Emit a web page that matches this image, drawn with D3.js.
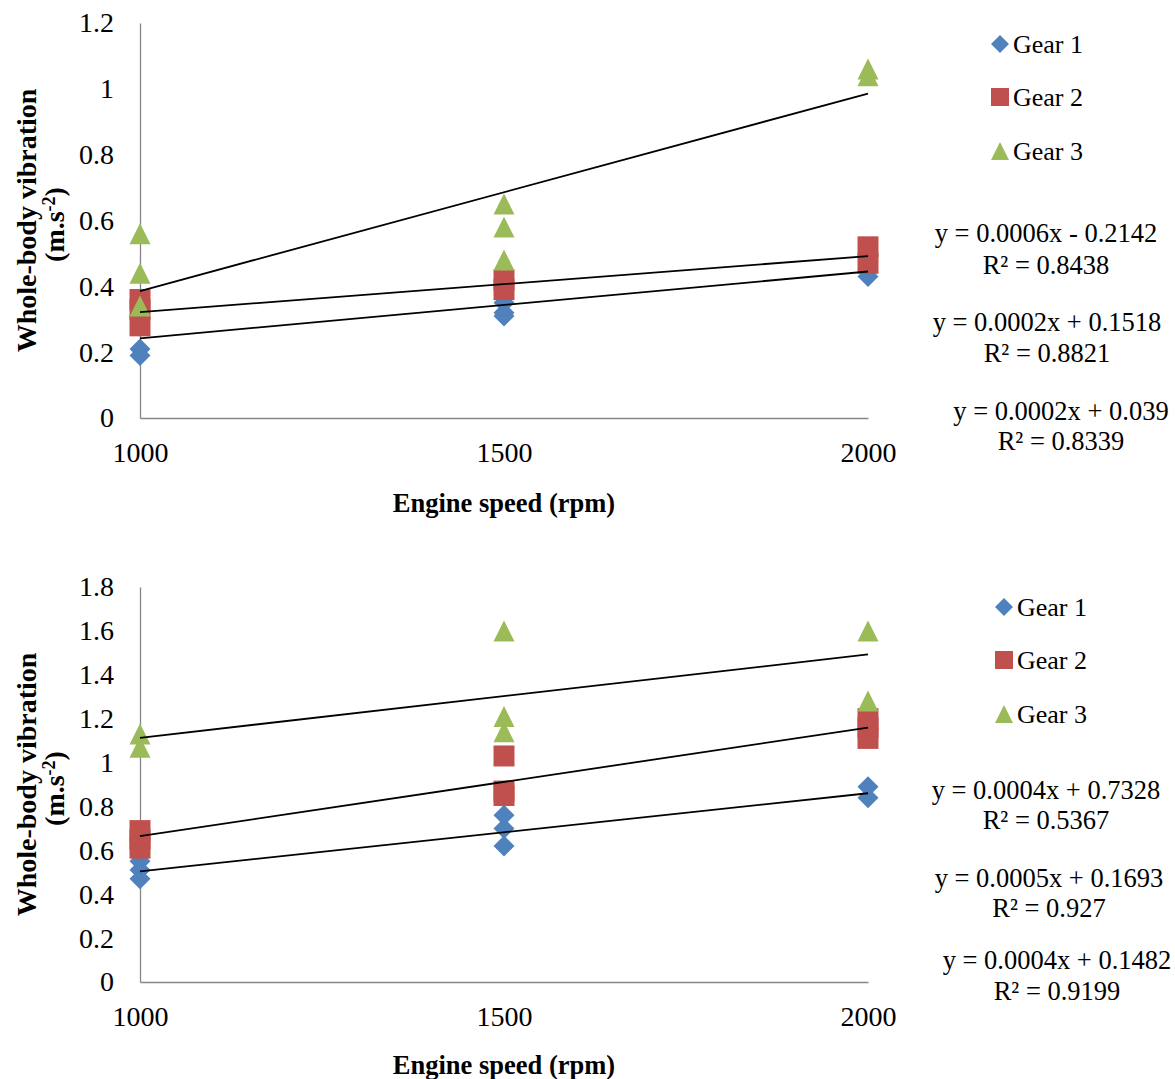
<!DOCTYPE html>
<html>
<head>
<meta charset="utf-8">
<script src="https://cdn.jsdelivr.net/npm/d3@7"></script>
<style>
  html, body { margin: 0; padding: 0; background: #fff; }
  svg { display: block; }
  text { font-family: "Liberation Serif", "Times New Roman", serif; fill: #000; }
</style>
</head>
<body>
<svg id="chart" width="1175" height="1079"></svg>
<script>
// ---------------- DATA ----------------
const xCategories = [1000, 1500, 2000];
const seriesNames = ["Gear 1", "Gear 2", "Gear 3"];
const seriesColors = ["#4F81BD", "#C0504D", "#9BBB59"];
const xAxisTitle = "Engine speed (rpm)";
const yAxisTitle = ["Whole-body vibration", "(m.s", "-2", ")"];

// Top chart — values per engine speed (1000, 1500, 2000)
const topYTicks = [0, 0.2, 0.4, 0.6, 0.8, 1.0, 1.2];
const topGear1 = [[0.21, 0.19], [0.35, 0.32, 0.31], [0.43]];
const topGear2 = [[0.36, 0.33, 0.28], [0.42, 0.39], [0.52, 0.47]];
const topGear3 = [[0.56, 0.44, 0.34], [0.65, 0.58, 0.48], [1.06, 1.04]];
const topSlopes = [0.000203, 0.00017, 0.0006];
const topIntercepts = [0.039, 0.1518, -0.2142];
const topEquations = ["y = 0.0002x + 0.039", "y = 0.0002x + 0.1518", "y = 0.0006x - 0.2142"];
const topRSquared = ["R² = 0.8339", "R² = 0.8821", "R² = 0.8438"];

// Bottom chart
const bottomYTicks = [0, 0.2, 0.4, 0.6, 0.8, 1.0, 1.2, 1.4, 1.6, 1.8];
const bottomGear1 = [[0.55, 0.51, 0.47], [0.76, 0.70, 0.62], [0.89, 0.84]];
const bottomGear2 = [[0.69, 0.65, 0.61], [1.03, 0.87, 0.85], [1.2, 1.16, 1.11]];
const bottomGear3 = [[1.13, 1.07], [1.6, 1.21, 1.14], [1.6, 1.28]];
const bottomSlopes = [0.000356, 0.000495, 0.00038];
const bottomIntercepts = [0.1482, 0.1693, 0.7328];
const bottomEquations = ["y = 0.0004x + 0.1482", "y = 0.0005x + 0.1693", "y = 0.0004x + 0.7328"];
const bottomRSquared = ["R² = 0.9199", "R² = 0.927", "R² = 0.5367"];

// ---------------- LAYOUT ----------------
const svg = d3.select("#chart");
const SERIF = '"Liberation Serif", "Times New Roman", serif';

function markerPath(kind, cx, cy, s) {
  const h = s / 2;
  if (kind === 0) return `M${cx},${cy - h}L${cx + h},${cy}L${cx},${cy + h}L${cx - h},${cy}Z`;
  if (kind === 1) return `M${cx - h},${cy - h}H${cx + h}V${cy + h}H${cx - h}Z`;
  return `M${cx},${cy - h}L${cx + h},${cy + h}L${cx - h},${cy + h}Z`;
}

function drawChart(opts) {
  const g = svg.append("g");
  const x = d3.scaleLinear().domain([1000, 2000]).range([opts.left, opts.right]);
  const y = d3.scaleLinear().domain([0, d3.max(opts.yTicks)]).range([opts.bottom, opts.top]);

  // axes (lines only, no tick marks)
  const yAxis = d3.axisLeft(y).tickValues(opts.yTicks).tickSize(0).tickPadding(26)
    .tickFormat(d => d3.format("")(+d.toFixed(1)));
  const yg = g.append("g").attr("transform", `translate(${opts.left},0)`).call(yAxis)
    .attr("font-family", SERIF).attr("font-size", 28);
  yg.select(".domain").attr("stroke", "#868686").attr("stroke-width", 1.3);
  yg.selectAll("text").style("font-family", SERIF).style("font-size", "28px").attr("fill", "#000");

  const xAxis = d3.axisBottom(x).tickValues(xCategories).tickSize(0).tickPadding(24).tickFormat(d3.format("d"));
  const xg = g.append("g").attr("transform", `translate(0,${opts.bottom})`).call(xAxis)
    .attr("font-family", SERIF).attr("font-size", 28);
  xg.select(".domain").attr("stroke", "#868686").attr("stroke-width", 1.3);
  xg.selectAll("text").style("font-family", SERIF).style("font-size", "28px").attr("fill", "#000");

  // points
  opts.series.forEach((ser, si) => {
    const pts = [];
    ser.forEach((vals, ci) => vals.forEach(v => pts.push({ x: xCategories[ci], v })));
    g.append("g").selectAll("path").data(pts).join("path")
      .attr("d", d => markerPath(si, x(d.x), y(d.v), 21))
      .attr("fill", seriesColors[si]);
  });

  // trend lines
  opts.slopes.forEach((m, si) => {
    const b = opts.intercepts[si];
    g.append("line")
      .attr("x1", x(1000)).attr("y1", y(m * 1000 + b))
      .attr("x2", x(2000)).attr("y2", y(m * 2000 + b))
      .attr("stroke", "#000").attr("stroke-width", 1.8);
  });

  // axis titles
  g.append("text").attr("x", (opts.left + opts.right) / 2).attr("y", opts.xTitleY)
    .attr("text-anchor", "middle").attr("font-weight", "bold").attr("font-size", 26.5)
    .text(xAxisTitle);

  const cy = (opts.top + opts.bottom) / 2;
  const yt = g.append("g").attr("transform", `translate(36,${cy}) rotate(-90)`);
  yt.append("text").attr("x", 0).attr("y", 0).attr("text-anchor", "middle")
    .attr("font-weight", "bold").attr("font-size", 28).text(yAxisTitle[0]);
  const t2 = yt.append("text").attr("x", -4).attr("y", 28).attr("text-anchor", "middle")
    .attr("font-weight", "bold").attr("font-size", 28);
  t2.append("tspan").text(yAxisTitle[1]);
  t2.append("tspan").attr("font-size", 18).attr("dy", -9).text(yAxisTitle[2]);
  t2.append("tspan").attr("dy", 9).text(yAxisTitle[3]);

  // legend
  seriesNames.forEach((name, i) => {
    const ly = opts.legendY[i];
    g.append("path").attr("d", markerPath(i, opts.legendX, ly, 18)).attr("fill", seriesColors[i]);
    g.append("text").attr("x", opts.legendX + 13).attr("y", ly).attr("dy", "0.33em")
      .attr("font-size", 26).text(name);
  });

  // equations
  opts.equations.forEach((eq, i) => {
    const p = opts.eqPos[i];
    g.append("text").attr("x", p[0]).attr("y", p[1]).attr("dy", "0.34em")
      .attr("text-anchor", "middle").attr("font-size", 26.5).text(eq);
    g.append("text").attr("x", p[0]).attr("y", p[2]).attr("dy", "0.34em")
      .attr("text-anchor", "middle").attr("font-size", 26.5).text(opts.rsq[i]);
  });
}

drawChart({
  left: 140, right: 868, top: 23, bottom: 418,
  yTicks: topYTicks,
  series: [topGear1, topGear2, topGear3],
  slopes: topSlopes, intercepts: topIntercepts,
  equations: topEquations, rsq: topRSquared,
  eqPos: [[1061, 411, 441], [1047, 322, 353], [1046, 233, 265]],
  legendX: 1000, legendY: [44, 97, 151],
  xTitleY: 512
});

drawChart({
  left: 140, right: 868, top: 587, bottom: 982,
  yTicks: bottomYTicks,
  series: [bottomGear1, bottomGear2, bottomGear3],
  slopes: bottomSlopes, intercepts: bottomIntercepts,
  equations: bottomEquations, rsq: bottomRSquared,
  eqPos: [[1057, 960, 991], [1049, 878, 908], [1046, 790, 820]],
  legendX: 1004, legendY: [607, 660, 714],
  xTitleY: 1074
});
</script>
</body>
</html>
